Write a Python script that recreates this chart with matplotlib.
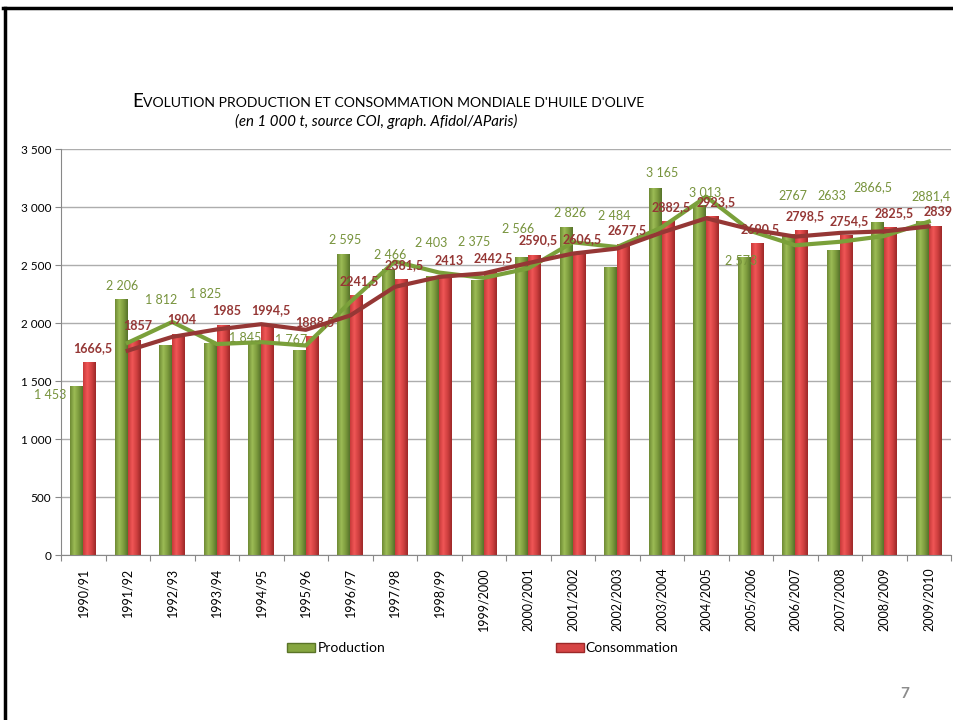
import numpy as np
import pandas as pd
import matplotlib.pyplot as plt
from matplotlib.colors import LinearSegmentedColormap
from matplotlib.lines import Line2D
from matplotlib.patches import Patch
from matplotlib.ticker import FuncFormatter
from matplotlib.offsetbox import TextArea, HPacker, AnchoredOffsetbox

plt.rcParams["font.family"] = ["Lato", "DejaVu Sans"]

campagnes = ["1990/91", "1991/92", "1992/93", "1993/94", "1994/95", "1995/96",
             "1996/97", "1997/98", "1998/99", "1999/2000", "2000/2001", "2001/2002",
             "2002/2003", "2003/2004", "2004/2005", "2005/2006", "2006/2007",
             "2007/2008", "2008/2009", "2009/2010"]
production = [1453, 2206, 1812, 1825, 1845, 1767, 2595, 2466, 2403, 2375,
              2566, 2826, 2484, 3165, 3013, 2573, 2767, 2633, 2866.5, 2881.4]
consommation = [1666.5, 1857, 1904, 1985, 1994.5, 1888.5, 2241.5, 2381.5, 2413, 2442.5,
                2590.5, 2606.5, 2677.5, 2882.5, 2923.5, 2690.5, 2798.5, 2754.5, 2825.5, 2839]
prod_txt = ["1 453", "2 206", "1 812", "1 825", "1 845", "1 767", "2 595", "2 466",
            "2 403", "2 375", "2 566", "2 826", "2 484", "3 165", "3 013", "2 573",
            "2767", "2633", "2866,5", "2881,4"]
cons_txt = ["1666,5", "1857", "1904", "1985", "1994,5", "1888,5", "2241,5", "2381,5",
            "2413", "2442,5", "2590,5", "2606,5", "2677,5", "2882,5", "2923,5", "2690,5",
            "2798,5", "2754,5", "2825,5", "2839"]

# decalage des etiquettes de production (pixels), placees a la main dans l'original
prod_dx = [-27, 1, -5, -5, -10, -8, 1, 2, -2, -3, -4, 4, 3, 7, 5, -3, 4, -1, -5, 9]
prod_dy = [-9, 13, 45, 49, 3, 10, 14, 14, 33, 38, 28, 14, 51, 15, 12, -4, 38, 54, 35, 25]

vert = "#77933C"
rouge = "#C0392B"
vert_ligne = "#7AA03A"
rouge_ligne = "#953735"

cm_vert = LinearSegmentedColormap.from_list("v", ["#6E8A34", "#9CBC55", "#7E9C3E", "#56722A"])
cm_rouge = LinearSegmentedColormap.from_list("r", ["#C83A3A", "#F05656", "#D04040", "#9C2828"])

fig = plt.figure(figsize=(9.54, 7.2), dpi=100)
ax = fig.add_axes([61 / 954, 1 - 555 / 720, 890 / 954, 406 / 720])

x = np.arange(len(campagnes))
w = 0.29
b1 = ax.bar(x - w / 2, production, w, color=vert, zorder=2)
b2 = ax.bar(x + w / 2, consommation, w, color=rouge, zorder=2)

grad = np.linspace(0, 1, 64).reshape(1, -1)
for bars, cmap in [(b1, cm_vert), (b2, cm_rouge)]:
    for r in bars:
        x0, y0 = r.get_x(), r.get_y()
        im = ax.imshow(grad, cmap=cmap, aspect="auto", zorder=2.1,
                       extent=[x0, x0 + r.get_width(), y0, y0 + r.get_height()])
        im.set_clip_path(r)

# moyennes mobiles sur 2 periodes
mm_prod = pd.Series(production).rolling(2).mean()
mm_cons = pd.Series(consommation).rolling(2).mean()
ax.plot(x, mm_prod, color=vert_ligne, lw=3, zorder=3)
ax.plot(x, mm_cons, color=rouge_ligne, lw=3, zorder=3)

for i in range(len(x)):
    ax.annotate(prod_txt[i], (x[i] - w / 2, production[i]), xytext=(prod_dx[i], prod_dy[i]),
                textcoords="offset pixels", ha="center", va="center",
                color=vert, fontsize=9, zorder=4)
    ax.annotate(cons_txt[i], (x[i] + w / 2, consommation[i]), xytext=(3, 14),
                textcoords="offset pixels", ha="center", va="center",
                color=rouge_ligne, fontsize=9, fontweight="bold", zorder=4)

ax.set_xlim(-0.5, len(x) - 0.5)
ax.set_ylim(0, 3500)
ax.set_yticks(np.arange(0, 3501, 500))
ax.yaxis.set_major_formatter(FuncFormatter(lambda v, p: f"{v:,.0f}".replace(",", " ")))
ax.set_xticks(np.arange(len(x) + 1) - 0.5)
ax.set_xticklabels([])
ax.set_xticks(x, minor=True)
ax.set_xticklabels(campagnes, minor=True, rotation=90, fontsize=9)
ax.tick_params(axis="x", which="minor", length=0, pad=9)
ax.tick_params(axis="x", which="major", length=4, color="#888888")
ax.tick_params(axis="y", length=4, color="#888888", labelsize=8.5, pad=3)
ax.grid(axis="y", color="#ADADAD", lw=1, zorder=0)
ax.set_axisbelow(True)
for s in ["top", "right"]:
    ax.spines[s].set_visible(False)
for s in ["left", "bottom"]:
    ax.spines[s].set_color("#888888")

handles = [Patch(facecolor="#86A640", edgecolor="#5A7428", label="Production"),
           Patch(facecolor="#D64545", edgecolor="#9C2828", label="Consommation")]
fig.legend(handles=handles, loc="center", bbox_to_anchor=(483 / 954, 1 - 648 / 720),
           ncol=2, frameon=False, fontsize=10, handlelength=2.0, handleheight=0.6,
           handletextpad=0.15, columnspacing=12.3)

titre = HPacker(children=[TextArea("E", textprops=dict(fontsize=13.5)),
                          TextArea("VOLUTION PRODUCTION ET CONSOMMATION MONDIALE D'HUILE D'OLIVE",
                                   textprops=dict(fontsize=10.1))],
                align="baseline", pad=0, sep=0)
fig.add_artist(AnchoredOffsetbox(loc="lower left", child=titre, pad=0, borderpad=0, frameon=False,
                                 bbox_to_anchor=(132 / 954, 1 - 110 / 720),
                                 bbox_transform=fig.transFigure))
fig.text(376 / 954, 1 - 121 / 720, "(en 1 000 t, source COI, graph. Afidol/AParis)",
         ha="center", va="center", fontsize=10.8, style="italic")

fig.text(905 / 954, 1 - 694 / 720, "7", ha="center", va="center",
         fontsize=11, fontweight="bold", color="#8C8C8C")

fig.add_artist(Line2D([3 / 954, 1], [1 - 8 / 720] * 2, transform=fig.transFigure, color="black", lw=2.5))
fig.add_artist(Line2D([5 / 954] * 2, [0, 1 - 8 / 720], transform=fig.transFigure, color="black", lw=2.5))

fig.savefig("out.png", dpi=100)
